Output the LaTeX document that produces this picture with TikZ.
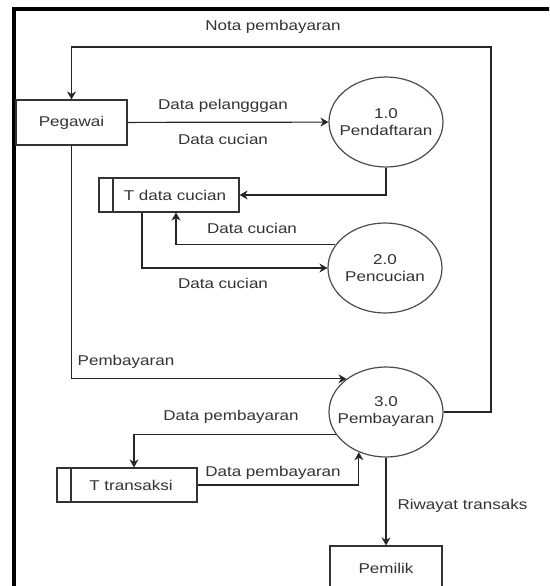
\documentclass[tikz,border=0pt]{standalone}
\usepackage{fontspec}
\setmainfont{Liberation Sans}[FakeStretch=1.2]
\usepackage{tikz}
\usetikzlibrary{arrows.meta,shapes.geometric}

\begin{document}
\begin{tikzpicture}[
  x=1pt, y=-1pt,
  line width=1.2,
  font=\fontsize{14.2}{17}\selectfont,
  every node/.style={text=black!80},
  entitas/.style={draw=black!80, minimum width=111, minimum height=45, inner sep=0},
  proses/.style={ellipse, draw=black!70, minimum width=114, minimum height=90, align=center,
    inner xsep=-25pt, inner ysep=0},
  simpanan/.style={draw=black!80, minimum width=140, minimum height=34, inner sep=0,
    path picture={\draw[black!80, line width=1.2]
      ([xshift=14]path picture bounding box.north west) --
      ([xshift=14]path picture bounding box.south west);}},
  alur/.style={draw=black!85, -{Stealth[length=8pt,width=9pt]}},
]
\useasboundingbox (0,0) rectangle (549,586);
\clip (0,0) rectangle (549,586);
\fill[white] (0,0) rectangle (549,586);
% bingkai
\draw[line width=4, black] (14,590) -- (14,9) -- (552,9);

\node[entitas] (pegawai) at (71.5,122.5) {Pegawai};
\node[entitas, minimum width=112] (pemilik) at (386,568.5) {Pemilik};
\node[proses] (p1) at (386,122) {1.0\\Pendaftaran};
\node[proses] (p2) at (385,268) {2.0\\Pencucian};
\node[proses] (p3) at (386,412) {3.0\\Pembayaran};
\node[simpanan] (dcucian) at (169,195) {\hspace{12pt}T data cucian};
\node[simpanan] (ttrans) at (127,485) {\hspace{8pt}T transaksi};
\coordinate (nota) at (491,47);

\draw[alur] (p3.east) -| (nota) -| (pegawai.north);
\draw[alur] (pegawai) -- (p1);
\draw[alur] (p1.south) |- (dcucian.east);
\draw[alur] (p2.155) -| ([xshift=7]dcucian.south);
\draw[alur] ([xshift=-27]dcucian.south) |- (p2.west);
\draw[alur] (pegawai.south) |- (p3.140);
\draw[alur] (p3.204) -| ([xshift=7]ttrans.north);
\draw[alur] (ttrans.east) -| (p3.236);
\draw[alur] (p3.south) -- (pemilik.north);

\node (lnota) at (273,27) {Nota pembayaran};
\node (lpel) at (223,106) {Data pelangggan};
\node (lcuc1) at (223,139) {Data cucian};
\node (lcuc2) at (252,228) {Data cucian};
\node (lcuc3) at (223,283) {Data cucian};
\node (lbayar) at (126,362) {Pembayaran};
\node (ldp1) at (231,417) {Data pembayaran};
\node (ldp2) at (273,473) {Data pembayaran};
\node[anchor=west, inner sep=0] (lriw) at (397,506) {Riwayat transaks};
\end{tikzpicture}
\end{document}
